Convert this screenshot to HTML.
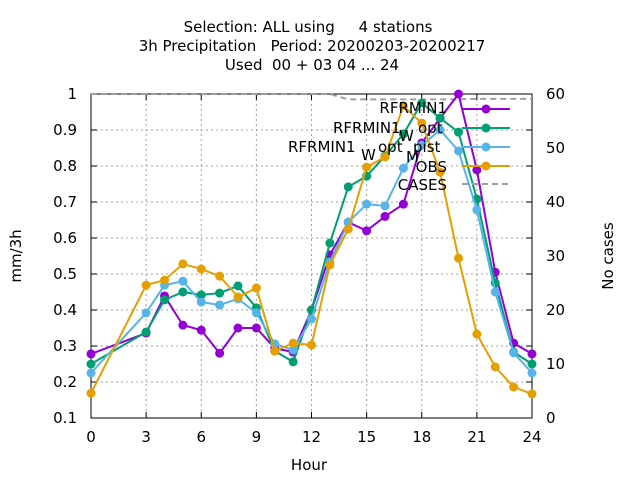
<!DOCTYPE html>
<html><head><meta charset="utf-8"><style>
body{margin:0;background:#fff}
svg text{font-family:"DejaVu Sans","Liberation Sans",sans-serif;font-size:15px;fill:#000;white-space:pre}
</style></head><body>
<svg id="c" width="640" height="480">
<text x="308" y="32" text-anchor="middle">Selection: ALL using     4 stations</text>
<text x="312" y="51" text-anchor="middle">3h Precipitation   Period: 20200203-20200217</text>
<text x="312" y="70" text-anchor="middle">Used  00 + 03 04 ... 24</text>
<text x="309" y="470" text-anchor="middle">Hour</text>
<text transform="translate(21,256) rotate(-90)" text-anchor="middle">mm/3h</text>
<text transform="translate(613,256) rotate(-90)" text-anchor="middle">No cases</text>
<g id="grid"></g><g id="axes"></g><g id="series"></g>
<g id="legend">
<text x="447" y="113" text-anchor="end">RFRMIN1</text>
<g>
<text x="333" y="133">RFRMIN1</text><text x="399" y="141">W</text><text x="418" y="133">opt</text>
</g>
<g>
<text x="288" y="152">RFRMIN1</text><text x="361" y="160">W</text><text x="378" y="152">opt</text><text x="406" y="162">M</text><text x="413" y="152">pist</text>
</g>
<text x="447" y="172" text-anchor="end">OBS</text>
<text x="447" y="190" text-anchor="end">CASES</text>
</g>
</svg>
<script>
const hours=[0,3,4,5,6,7,8,9,10,11,12,13,14,15,16,17,18,19,20,21,22,23,24];
const rfrmin1=[0.278,0.336,0.439,0.358,0.344,0.28,0.35,0.35,0.294,0.283,0.4,0.553,0.644,0.62,0.66,0.694,0.864,0.933,1.0,0.789,0.505,0.308,0.278];
const rfrminWopt=[0.25,0.339,0.428,0.45,0.442,0.447,0.467,0.406,0.286,0.256,0.4,0.586,0.742,0.772,0.828,0.889,0.975,0.933,0.894,0.708,0.475,0.283,0.25];
const rfrminWoptMpist=[0.225,0.392,0.469,0.48,0.422,0.414,0.431,0.392,0.306,0.289,0.375,0.533,0.644,0.694,0.689,0.794,0.858,0.9,0.842,0.678,0.45,0.281,0.225];
const obs=[0.169,0.469,0.483,0.528,0.514,0.494,0.436,0.461,0.286,0.308,0.303,0.525,0.625,0.797,0.825,0.967,0.919,0.783,0.544,0.333,0.242,0.186,0.167];
const cases=[60,60,60,60,60,60,60,60,60,60,60,60,59,59,59,59,59,59,59,59.1,59.1,59.1,59.1];
const xTicks=[0,3,6,9,12,15,18,21,24];
const yTicks=[0.1,0.2,0.3,0.4,0.5,0.6,0.7,0.8,0.9,1];
const y2Ticks=[0,10,20,30,40,50,60];
const L=91,R=532,T=94,B=418;
const X=h=>L+(R-L)*h/24, Y=v=>B-(B-T)*(v-0.1)/0.9, Y2=v=>B-(B-T)*v/60;
const NS="http://www.w3.org/2000/svg";
function mk(p,t,a){const e=document.createElementNS(NS,t);for(const k in a)e.setAttribute(k,a[k]);document.getElementById(p).appendChild(e);return e;}
xTicks.forEach(h=>{
 const g=mk('grid','line',{x1:X(h),x2:X(h),y1:T,y2:B,stroke:'#a0a0a0','stroke-dasharray':'2,3'});
 
 
 mk('axes','line',{x1:X(h),x2:X(h),y1:B,y2:B-6,stroke:'#000'});
 mk('axes','line',{x1:X(h),x2:X(h),y1:T,y2:T+6,stroke:'#000'});
 const t=mk('axes','text',{x:X(h),y:B+24,'text-anchor':'middle'});t.textContent=h;
 
 
});
yTicks.forEach(v=>{
 const g=mk('grid','line',{x1:L,x2:R,y1:Y(v),y2:Y(v),stroke:'#a0a0a0','stroke-dasharray':'2,3'});
 
 
 mk('axes','line',{x1:L,x2:L+6,y1:Y(v),y2:Y(v),stroke:'#000'});
 mk('axes','line',{x1:R-6,x2:R,y1:Y(v),y2:Y(v),stroke:'#000'});
 const t=mk('axes','text',{x:L-14,y:Y(v)+5,'text-anchor':'end'});t.textContent=v===1?'1':v.toFixed(1);
 
 
});
y2Ticks.forEach(v=>{
 const t=mk('axes','text',{x:R+14,y:Y2(v)+5});t.textContent=v;
 
 
});
const fr=mk('axes','rect',{x:L,y:T,width:R-L,height:B-T,fill:'none',stroke:'#000'});


const cl=mk('series','polyline',{points:hours.map((h,i)=>X(h)+','+Y2(cases[i])).join(' '),fill:'none',stroke:'#a0a0a0','stroke-width':2,'stroke-dasharray':'6,4'});


const S=[['rfrmin1',rfrmin1,'#9400d3'],['rfrmin1-w-opt',rfrminWopt,'#009e73'],['rfrmin1-w-opt-m-pist',rfrminWoptMpist,'#56b4e9'],['obs',obs,'#e69f00']];
function dot(p,x,y,c){mk(p,'circle',{cx:x,cy:y,r:4.5,fill:c});}
S.forEach(([n,d,c])=>{
 const pl=mk('series','polyline',{points:hours.map((h,i)=>X(h)+','+Y(d[i])).join(' '),fill:'none',stroke:c,'stroke-width':2});
 
 
 hours.forEach((h,i)=>dot('series',X(h),Y(d[i]),c));
});
const ly=[109,128,147,166,184];
ly.forEach((y,i)=>{
 if(i<4){
  mk('legend','line',{x1:462,x2:510,y1:y,y2:y,stroke:S[i][2],'stroke-width':2});
  dot('legend',486,y,S[i][2]);
 } else mk('legend','line',{x1:462,x2:510,y1:y,y2:y,stroke:'#a0a0a0','stroke-width':2,'stroke-dasharray':'6,4'});
});
</script>
</body></html>
